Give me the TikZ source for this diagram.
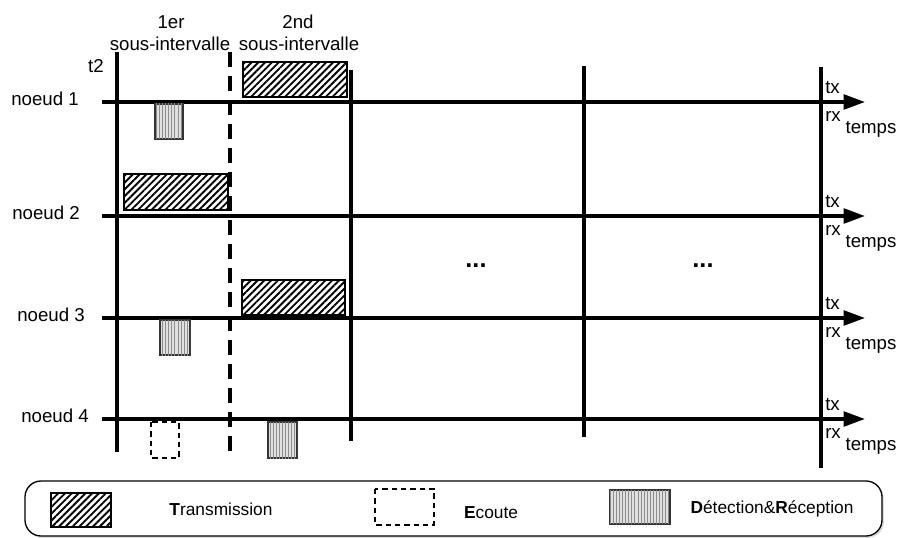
\documentclass[tikz,border=0pt]{standalone}
\usepackage{fontspec}
\setmainfont{Liberation Sans}
\usetikzlibrary{arrows.meta,patterns.meta,shadows}
\begin{document}
\begin{tikzpicture}[x=0.75pt, y=-0.75pt,
  lbl/.style={font=\fontsize{14}{16}\selectfont, inner sep=0pt},
  leglbl/.style={font=\fontsize{13}{15}\selectfont, inner sep=0pt},
  dotlbl/.style={font=\bfseries\fontsize{19}{20}\selectfont, inner sep=0pt},
  txbox/.style={draw=black, line width=0.9pt, pattern={Lines[angle=45,distance=3.6pt,line width=1.4pt]}},
  detbox/.style={draw=black!80, line width=0.9pt, fill=black!12,
    postaction={pattern={Lines[angle=90,distance=2.3pt,line width=0.5pt]}, pattern color=black!45}},
  ecbox/.style={draw=black, line width=0.8pt, dash pattern=on 4pt off 3pt},
  timeline/.style={line width=2.5pt, -{Triangle[length=16pt,width=11pt]}},
  limit/.style={line width=2.5pt}]
% Diagram of the sub-intervals, one timeline per node
\def\tipx{865}
\useasboundingbox (0,0) rectangle (905,538);
% Interval limits
\draw[limit] (117,52) -- (117,452);
\draw[limit, dash pattern=on 11pt off 7pt] (230,52) -- (230,455);
\draw[limit] (351,70) -- (351,441);
\draw[limit] (584,66) -- (584,437);
\draw[limit] (821,67) -- (821,468);
% Timelines
\foreach \n/\y/\lx in {1/102/45, 2/216/46, 3/318/51, 4/419/55} {
  \coordinate (start\n) at (102,\y);
  \coordinate (end\n) at (\tipx,\y);
  \draw[timeline] (start\n) -- (end\n);
  \node[lbl] (noeud\n) at (\lx,\y-3) {noeud \n};
  \node[lbl, anchor=west] (tx\n) at (825,\y-14) {tx};
  \node[lbl, anchor=west] (rx\n) at (825,\y+14) {rx};
  \node[lbl] (temps\n) at (871,\y+27) {temps};
}
% Headings
\node[lbl] (t2) at (96,66) {t2};
\node[lbl] (first) at (171,22) {1er};
\node[lbl] (firstsub) at (170,44) {sous-intervalle};
\node[lbl] (second) at (298,22) {2nd};
\node[lbl] (secondsub) at (299,44) {sous-intervalle};
\node[dotlbl] (dotsa) at (476,266) {...};
\node[dotlbl] (dotsb) at (703,266) {...};
% Activity of each node
\draw[txbox] (243,62) rectangle (347,97);
\draw[detbox] (155,104) rectangle (183,139);
\draw[txbox] (124,174) rectangle (228,210);
\draw[txbox] (242,280) rectangle (345,315);
\draw[detbox] (160,320) rectangle (190,355);
\draw[ecbox] (151,422) rectangle (179,458);
\draw[detbox] (268,422) rectangle (297,458);
% Legend
\draw[line width=1pt, rounded corners=12pt, fill=white,
  drop shadow={opacity=0.25, shadow xshift=1.5pt, shadow yshift=-1.5pt}]
  (25,481) rectangle (882,536);
\draw[txbox] (51,493) rectangle (111,527);
\node[leglbl] (legtx) at (221,509) {{\bfseries T}ransmission};
\draw[ecbox] (375,489) rectangle (434,525);
\node[leglbl] (legec) at (491,513) {{\bfseries E}coute};
\draw[detbox] (610,490) rectangle (670,524);
\node[leglbl] (legdet) at (772,509) {{\bfseries D}étection\&{\bfseries R}éception};
\end{tikzpicture}
\end{document}
